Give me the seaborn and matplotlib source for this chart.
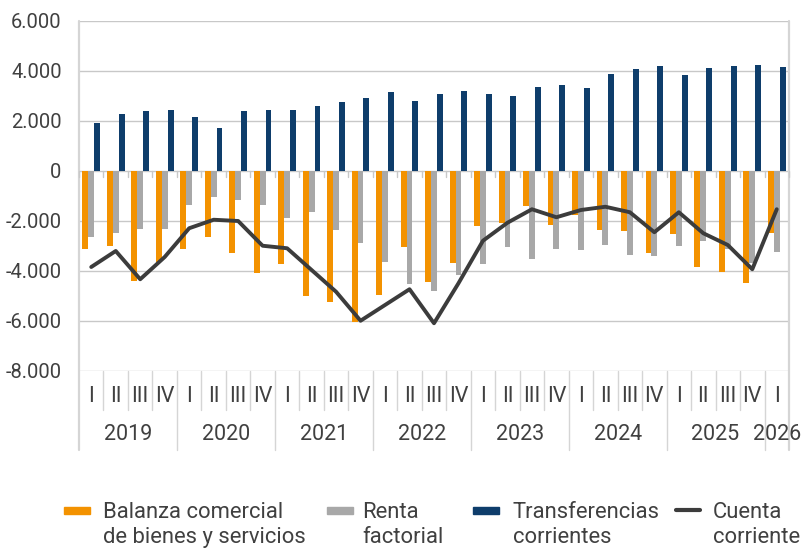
import numpy as np
import pandas as pd
import matplotlib
matplotlib.use("Agg")
import matplotlib.pyplot as plt
from matplotlib.patches import Rectangle
from matplotlib.lines import Line2D
from matplotlib.transforms import blended_transform_factory
import seaborn as sns

years = ["2019", "2020", "2021", "2022", "2023", "2024", "2025", "2026"]
quarter_labels = ["I", "II", "III", "IV"] * 7 + ["I"]
year_of_q = [y for y in years[:-1] for _ in range(4)] + ["2026"]

balanza = [-3120, -3000, -4400, -3620, -3100, -2650, -3270, -4090, -3700, -5010,
           -5250, -6030, -4960, -3040, -4430, -3680, -2190, -2060, -1410, -2170,
           -1760, -2360, -2390, -3270, -2520, -3830, -4050, -4470, -2490]
renta = [-2640, -2490, -2310, -2310, -1370, -1040, -1170, -1370, -1860, -1640,
         -2350, -2870, -3620, -4530, -4800, -4140, -3730, -3040, -3500, -3130,
         -3160, -2960, -3350, -3390, -2990, -2800, -3120, -3690, -3250]
transf = [1920, 2280, 2390, 2430, 2160, 1720, 2410, 2460, 2430, 2610,
          2750, 2920, 3160, 2810, 3090, 3190, 3070, 3010, 3350, 3430,
          3310, 3880, 4070, 4190, 3830, 4130, 4210, 4230, 4170]
cuenta = [-3840, -3200, -4330, -3440, -2290, -1950, -2000, -2990, -3090, -3960,
          -4830, -5990, -5360, -4730, -6090, -4490, -2790, -2070, -1530, -1850,
          -1560, -1430, -1650, -2450, -1650, -2490, -2960, -3930, -1530]

series_names = ["Balanza comercial\nde bienes y servicios", "Renta\nfactorial",
                "Transferencias\ncorrientes"]
line_name = "Cuenta\ncorriente"
colors = ["#F39200", "#A8A8A8", "#0E3D6B"]
line_color = "#3C3C3C"
text_color = "#404040"

cats = [f"{y}-{q}" for y, q in zip(year_of_q, quarter_labels)]
n = len(cats)

df = pd.DataFrame({
    "cat": cats * 3,
    "serie": sum([[s] * n for s in series_names], []),
    "valor": balanza + renta + transf,
})

sns.set_theme(style="white")
plt.rcParams["font.family"] = ["Roboto", "DejaVu Sans"]

W, H = 804, 560
fig = plt.figure(figsize=(W / 100, H / 100), dpi=100)
ax = fig.add_axes([79 / W, (H - 371) / H, (789 - 79) / W, 350 / H])

sns.barplot(data=df, x="cat", y="valor", hue="serie", order=cats,
            hue_order=series_names, palette=colors, width=0.72, gap=0,
            linewidth=0, saturation=1, ax=ax, legend=False, errorbar=None)

sns.lineplot(x=np.arange(n), y=cuenta, color=line_color, linewidth=2.8,
             ax=ax, zorder=5)

ax.set_xlim(-0.5, n - 0.5)
ax.set_ylim(-8000, 6000)
yt = np.arange(-8000, 6001, 2000)
ax.set_yticks(yt)
ax.set_yticklabels([f"{v:,.0f}".replace(",", ".") for v in yt],
                   fontsize=14.5, color=text_color)
ax.tick_params(axis="y", length=0, pad=12.5)
ax.set_xticks([])
ax.set_xlabel("")
ax.set_ylabel("")
grid_c = "#C8C8C8"
for v in yt:
    ax.axhline(v, color=grid_c, linewidth=1, zorder=0)
for s in ["top", "right", "bottom", "left"]:
    ax.spines[s].set_visible(False)

trans = blended_transform_factory(ax.transData, ax.transAxes)
sep_c = "#D5D5D5"
# small ticks on the zero line
for b in np.arange(-0.5, n, 1.0):
    ax.plot([b, b], [0, -230], color=grid_c, linewidth=1, zorder=1, clip_on=False)
# category separators
q_bot = -(410 - 371) / 350
y_bot = -(450 - 371) / 350
for i, b in enumerate(np.arange(-0.5, n + 0.5, 1.0)):
    if i == 0 or i == n:
        ax.plot([b, b], [1.0, y_bot], transform=trans, color=sep_c,
                linewidth=1.6, clip_on=False, zorder=0)
    elif i % 4 == 0:
        ax.plot([b, b], [0, y_bot], transform=trans, color=sep_c,
                linewidth=1, clip_on=False)
    else:
        ax.plot([b, b], [0, q_bot], transform=trans, color=sep_c,
                linewidth=1, clip_on=False)

for i, q in enumerate(quarter_labels):
    ax.text(i, -(396 - 371) / 350, q, transform=trans, ha="center",
            va="center", fontsize=15.5, color=text_color)
for y in years:
    idx = [i for i, yy in enumerate(year_of_q) if yy == y]
    ax.text(np.mean(idx), -(435 - 371) / 350, y, transform=trans,
            ha="center", va="center", fontsize=15.5, color=text_color)

# legend (manual layout to align handles with the first text line)
leg_fs = 15.8
handle_x = [64, 327, 473, 676]
text_x = [103, 362, 513, 713]
labels = series_names + [line_name]
for k in range(4):
    hx = handle_x[k] / W
    if k < 3:
        fig.add_artist(Rectangle((hx, (H - 514) / H), 26 / W, 7 / H,
                                 transform=fig.transFigure, color=colors[k]))
    else:
        fig.add_artist(Line2D([hx, hx + 24 / W], [(H - 510) / H] * 2,
                              transform=fig.transFigure, color=line_color,
                              linewidth=3))
    l1, l2 = labels[k].split("\n")
    fig.text(text_x[k] / W, (H - 518) / H, l1, fontsize=leg_fs,
             color=text_color, va="baseline", ha="left")
    fig.text(text_x[k] / W, (H - 543) / H, l2, fontsize=leg_fs,
             color=text_color, va="baseline", ha="left")

fig.savefig("out.png", dpi=100)
